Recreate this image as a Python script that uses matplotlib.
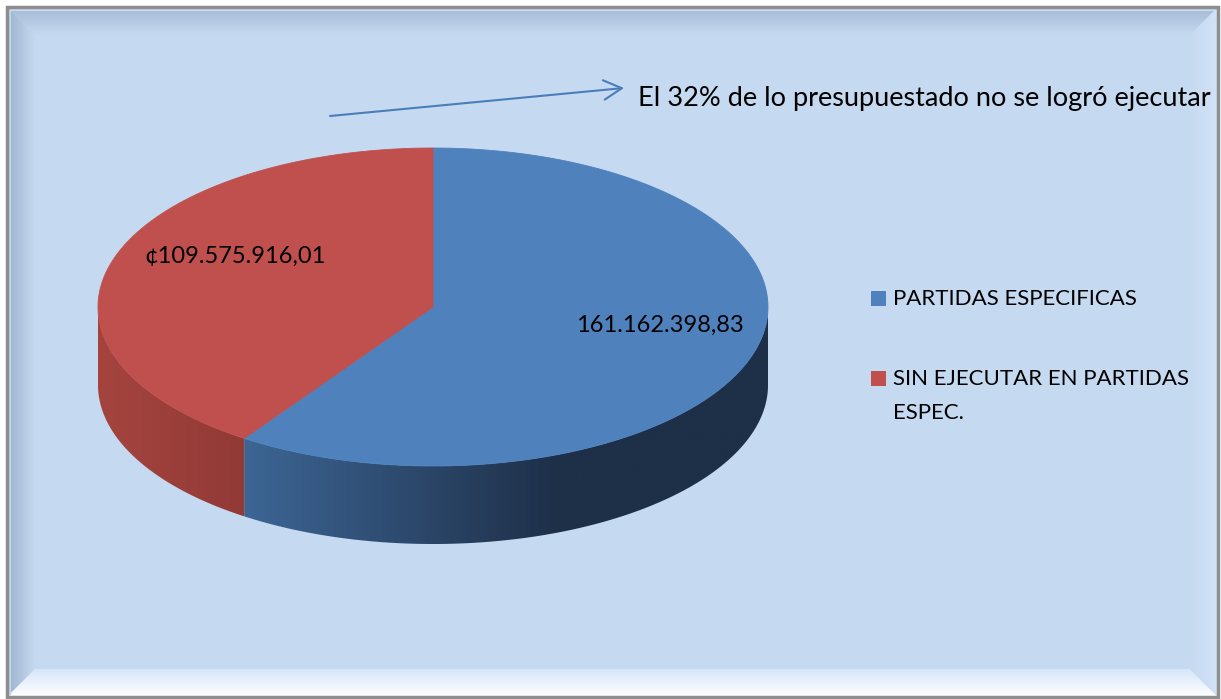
import numpy as np
import matplotlib
matplotlib.use("Agg")
import matplotlib.pyplot as plt
from matplotlib.patches import Polygon, Rectangle
from matplotlib.colors import to_rgb

# Datos del gráfico
categories = ["PARTIDAS ESPECIFICAS", "SIN EJECUTAR EN PARTIDAS\nESPEC."]
values = [161162398.83, 109575916.01]
value_labels = ["161.162.398,83", "\u00a2109.575.916,01"]
note = "El 32% de lo presupuestado no se logró ejecutar"

# Estilo
top_colors = ["#4f81bd", "#c0504d"]
side_colors = [("#3d6695", "#1e2f48", 0.6), ("#a5443f", "#923a36", 1.0)]
BG = "#c5d9f0"
FONT = ["Lato", "DejaVu Sans"]

W, H = 1221, 699
CX, CY, RX, RY, DEPTH = 433, 307, 335, 159, 78


def grad_fill(ax, verts, c0, c1, axis, sat=1.0, z=1):
    """Rellena un polígono con un degradado lineal (axis 'x' o 'y')."""
    verts = np.asarray(verts, float)
    x0, x1 = verts[:, 0].min(), verts[:, 0].max()
    y0, y1 = verts[:, 1].min(), verts[:, 1].max()
    g = np.clip(np.linspace(0, 1, 256) / sat, 0, 1)[:, None]
    cols = (1 - g) * np.array(to_rgb(c0)) + g * np.array(to_rgb(c1))
    img = cols[:, None, :] if axis == "y" else cols[None, :, :]
    im = ax.imshow(img, extent=(x0, x1, y1, y0), origin="upper",
                   aspect="auto", interpolation="bilinear", zorder=z)
    clip = Polygon(verts, closed=True, fc="none", ec="none",
                   transform=ax.transData)
    ax.add_patch(clip)
    im.set_clip_path(clip)


def arc(a, b, n=300, dy=0.0):
    th = np.radians(np.linspace(a, b, n))
    return np.column_stack([CX + RX * np.cos(th), CY - RY * np.sin(th) + dy])


fig = plt.figure(figsize=(W / 100, H / 100), dpi=100)
ax = fig.add_axes([0, 0, 1, 1])
ax.set_xlim(0, W)
ax.set_ylim(H, 0)
ax.axis("off")
fig.patch.set_facecolor("white")

# Marco con bisel
L, T, R, B, bw = 7, 7, 1218, 697, 28
ax.add_patch(Rectangle((L, T), R - L, B - T, fc=BG, ec="none", zorder=0))
grad_fill(ax, [(L, T), (R, T), (R - bw, T + bw), (L + bw, T + bw)],
          "#a4b9d3", BG, "y")
grad_fill(ax, [(L, T), (L + bw, T + bw), (L + bw, B - bw), (L, B)],
          "#9cb1cb", BG, "x")
grad_fill(ax, [(L, B), (L + bw, B - bw), (R - bw, B - bw), (R, B)],
          "#d6e6f8", "#ffffff", "y")
grad_fill(ax, [(R, T), (R, B), (R - bw, B - bw), (R - bw, T + bw)],
          BG, "#d3e3f7", "x")
ax.plot([L + 3, R - 3], [T + 3, T + 3], color="#c8dbf1", lw=1.5, zorder=2)
ax.plot([L + 3, L + 3], [T + 3, B - 3], color="#c3d6ee", lw=1.5, zorder=2)
ax.add_patch(Rectangle((L, T), R - L, B - T, fc="none", ec="#8e8e8e",
                       lw=2.5, zorder=3))

# Ángulos de las porciones: la roja empieza arriba y gira a la izquierda
total = sum(values)
start_red = 90.0
end_red = start_red + 360 * values[1] / total
spans = [(end_red, 450.0), (start_red, end_red)]

# Caras laterales (solo la mitad frontal es visible: 180..360)
for (a, b), (c0, c1, sat) in zip(spans, side_colors):
    lo, hi = max(a, 180.0), min(b, 360.0)
    if hi <= lo:
        continue
    top = arc(lo, hi)
    bottom = arc(hi, lo, dy=DEPTH)
    grad_fill(ax, np.vstack([top, bottom]), c0, c1, "x", sat=sat, z=4)

# Caras superiores
for (a, b), col in zip(spans, top_colors):
    verts = np.vstack([[(CX, CY)], arc(a, b)])
    ax.add_patch(Polygon(verts, closed=True, fc=col, ec=col,
                         lw=0.6, zorder=5))

# Etiquetas de valores
label_pos = [(660, 332), (235, 263)]
for txt, (x, y) in zip(value_labels, label_pos):
    ax.text(x, y, txt, ha="center", va="baseline", fontsize=17,
            family=FONT, color="black", zorder=6)

# Leyenda
legend_rows = [305, 385]
for cat, col, yb in zip(categories, top_colors, legend_rows):
    ax.add_patch(Rectangle((871, yb - 14), 15, 15, fc=col, ec="none", zorder=6))
    for k, line in enumerate(cat.split("\n")):
        ax.text(893, yb + 34 * k, line, ha="left", va="baseline",
                fontsize=16, family=FONT, color="black", zorder=6)

# Nota con flecha
ax.annotate("", xy=(624, 88), xytext=(330, 116),
            arrowprops=dict(arrowstyle="->,head_length=1.3,head_width=0.7",
                            color="#4a7ebb", lw=1.5, shrinkA=0, shrinkB=0),
            zorder=6)
ax.text(638, 106, note, ha="left", va="baseline", fontsize=19.5,
        family=FONT, color="black", zorder=6)

fig.savefig("out.png", dpi=100, facecolor=fig.get_facecolor())
